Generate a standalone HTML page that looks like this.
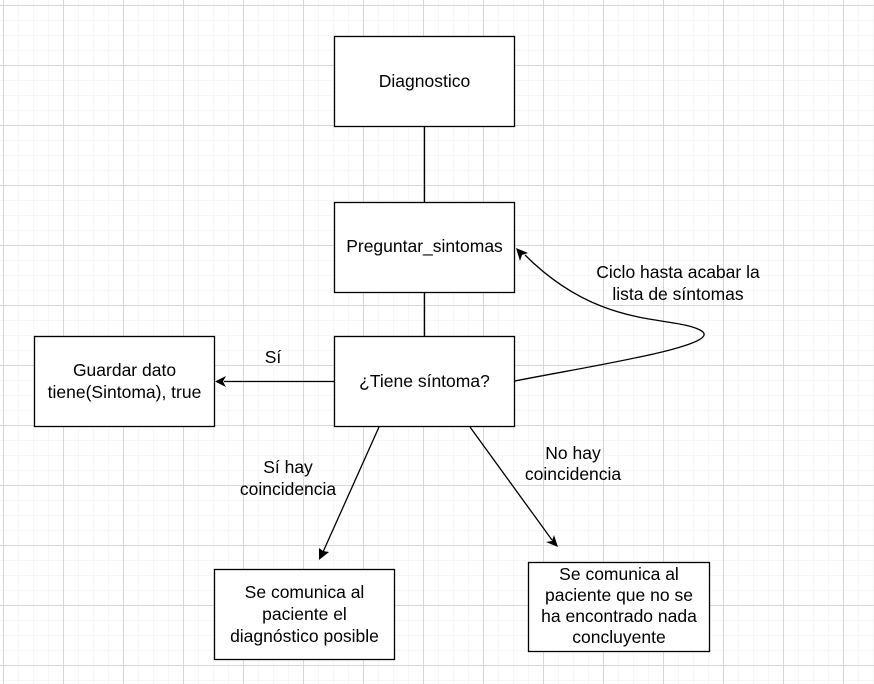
<!DOCTYPE html>
<html><head><meta charset="utf-8"><style>
html,body{margin:0;padding:0;background:#fff}
body{width:874px;height:684px;overflow:hidden;position:relative;font-family:"Liberation Sans",Arial,sans-serif}
</style></head><body>
<svg width="874" height="684" xmlns="http://www.w3.org/2000/svg" style="position:absolute;left:0;top:0">
<defs>
<pattern id="minor" x="3" y="5" width="15" height="15" patternUnits="userSpaceOnUse">
<path d="M0 0H15M0 0V15" stroke="#efefef" stroke-width="1" fill="none"/>
</pattern>
<pattern id="major" x="3" y="5" width="60" height="60" patternUnits="userSpaceOnUse">
<path d="M0 0.5H60M0.5 0V60" stroke="#d6d6d6" stroke-width="1" fill="none"/>
</pattern>
</defs>
<rect width="874" height="684" fill="url(#minor)"/>
<rect width="874" height="684" fill="url(#major)"/>
<g stroke="#000" stroke-width="1.3" fill="none">
<line x1="424.5" y1="126" x2="424.5" y2="202"/>
<line x1="424.5" y1="292" x2="424.5" y2="337"/>
<line x1="334" y1="381.5" x2="224" y2="381.5"/>
<path d="M515 381 C590 366 730 345 700 330 C670 315 600 330 525 255"/>
<line x1="379" y1="427" x2="323" y2="552"/>
<line x1="470" y1="427" x2="552" y2="540"/>
</g>
<g fill="#000">
<path d="M215 381.5 L226 376 L223 381.5 L226 387 Z"/>
<path d="M516 248 L528 253 L522 255 L520 261 Z"/>
<path d="M319 560 L319 548 L323 551 L329 552 Z"/>
<path d="M558 547 L546 542 L552 541 L554 535 Z"/>
</g>
<g fill="#fff" stroke="#000" stroke-width="1.3">
<rect x="334.5" y="36.5" width="180" height="90"/>
<rect x="334.5" y="202.5" width="180" height="90"/>
<rect x="334.5" y="336.5" width="180" height="90"/>
<rect x="34.5" y="336.5" width="180" height="90"/>
<rect x="214.5" y="569.5" width="180" height="90"/>
<rect x="528.5" y="562.5" width="181" height="89"/>
</g>
<g font-family="Liberation Sans,Arial,sans-serif" font-size="17.5" fill="#000" text-anchor="middle">
<text x="424.5" y="87">Diagnostico</text>
<text x="424.5" y="252">Preguntar_sintomas</text>
<text x="424.5" y="387">¿Tiene síntoma?</text>
<text x="124.5" y="376">Guardar dato</text>
<text x="124.5" y="398">tiene(Sintoma), true</text>
<text x="304.5" y="598">Se comunica al</text>
<text x="304.5" y="620">paciente el</text>
<text x="304.5" y="642">diagnóstico posible</text>
<text x="619" y="580">Se comunica al</text>
<text x="619" y="601">paciente que no se</text>
<text x="619" y="622">ha encontrado nada</text>
<text x="619" y="643">concluyente</text>
<text x="273" y="363">Sí</text>
<text x="288" y="473">Sí hay</text>
<text x="288" y="495">coincidencia</text>
<text x="573" y="459">No hay</text>
<text x="573" y="480">coincidencia</text>
<text x="678" y="278">Ciclo hasta acabar la</text>
<text x="678" y="300">lista de síntomas</text>
</g>
</svg>
</body></html>
